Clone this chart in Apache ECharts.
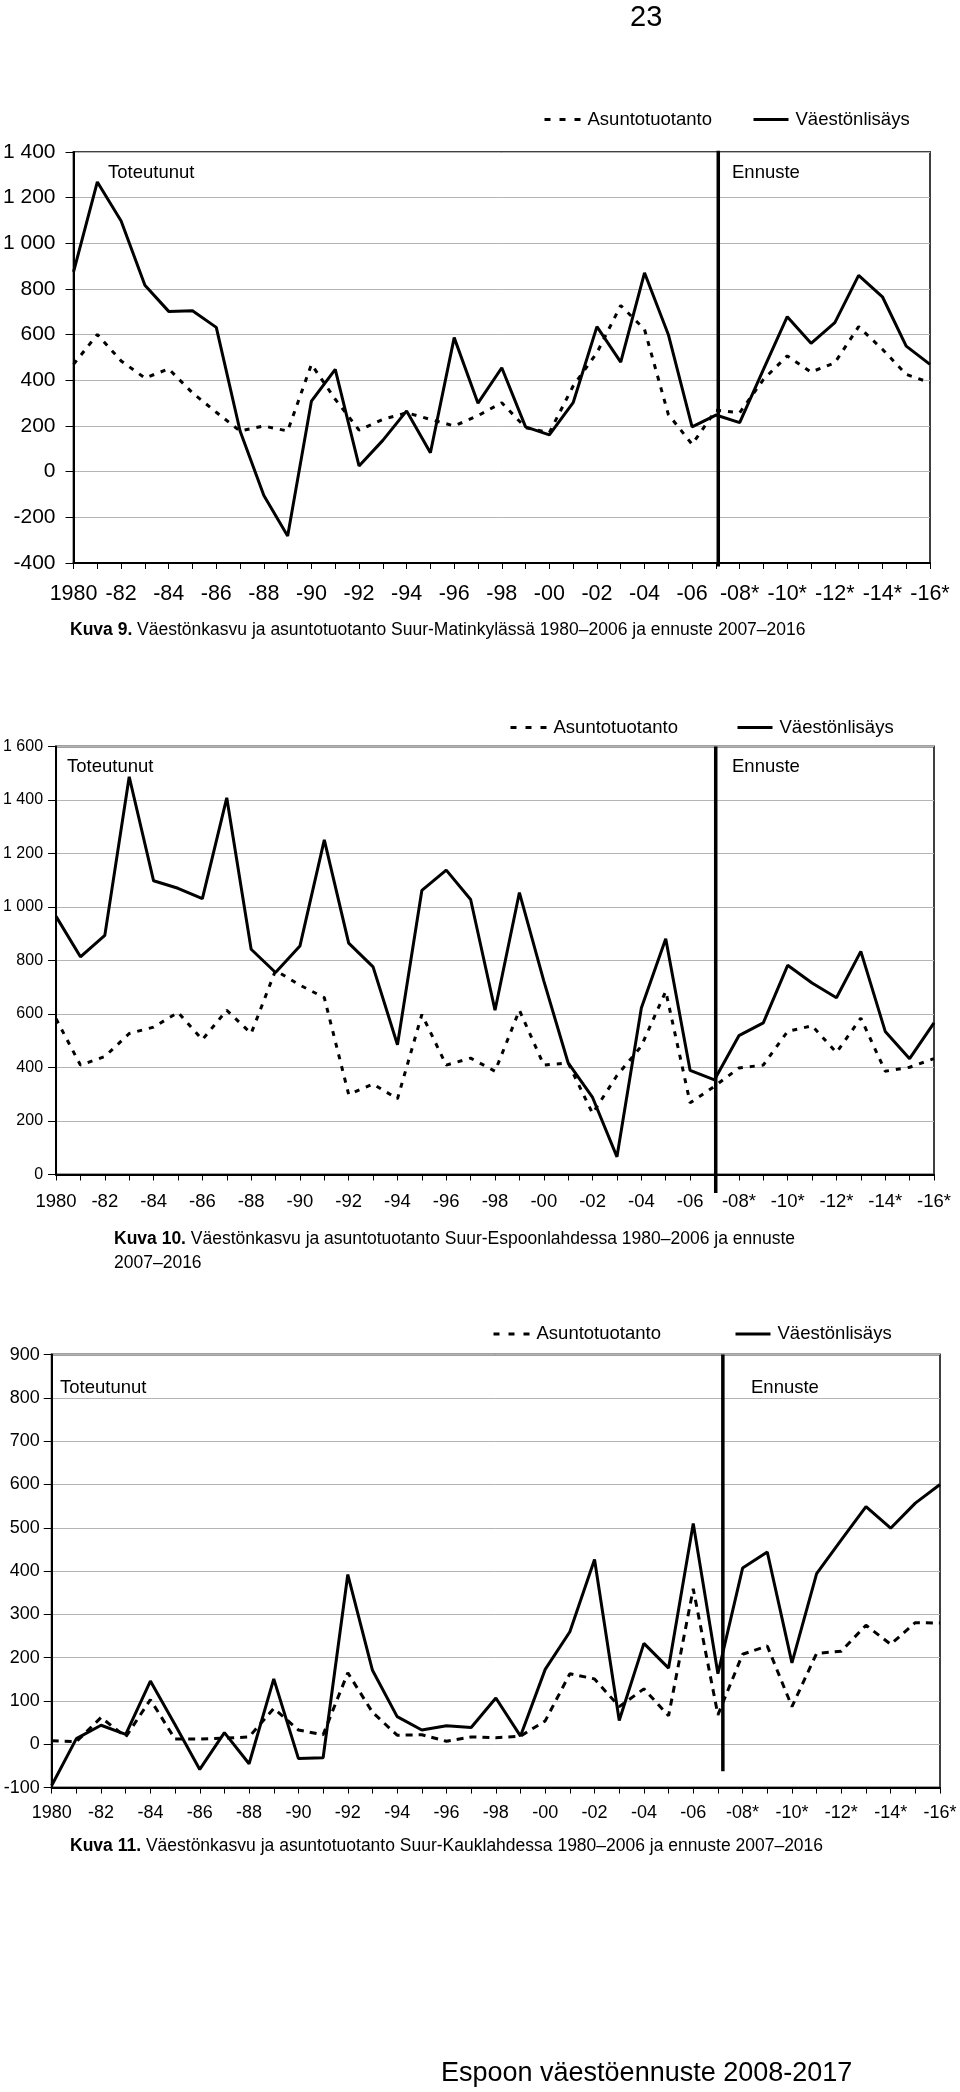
<!DOCTYPE html>
<html><head><meta charset="utf-8">
<script src="https://cdn.jsdelivr.net/npm/echarts@6/dist/echarts.min.js"></script>
<style>html,body{margin:0;padding:0;background:#fff}#c{width:960px;height:2092px}</style>
</head><body><div id="c"></div>
<script>
const years = [1980,1981,1982,1983,1984,1985,1986,1987,1988,1989,1990,1991,1992,1993,1994,1995,1996,1997,1998,1999,2000,2001,2002,2003,2004,2005,2006,2007,2008,2009,2010,2011,2012,2013,2014,2015,2016];
const xTickLabels = ['1980','-82','-84','-86','-88','-90','-92','-94','-96','-98','-00','-02','-04','-06','-08*','-10*','-12*','-14*','-16*'];
const forecastStart = 2007;
const seriesNames = ['Asuntotuotanto', 'Väestönlisäys'];

// Kuva 9 – Suur-Matinkylä
const c1Asunto = [470,601,485,410,450,345,260,178,200,178,470,317,182,229,258,229,200,245,302,193,171,375,521,728,623,251,120,269,258,404,507,436,477,635,536,426,390];
const c1Vaesto = [875,1269,1098,816,702,705,632,178,-104,-282,309,448,25,137,266,83,587,300,455,196,161,302,635,480,871,601,196,248,215,448,679,562,653,860,766,550,470];
// Kuva 10 – Suur-Espoonlahti
const c2Asunto = [582,409,441,527,551,606,504,614,527,763,708,661,299,338,283,598,409,435,386,614,409,417,228,370,480,685,268,330,398,409,535,556,456,585,386,401,433];
const c2Vaesto = [965,814,894,1487,1098,1070,1031,1408,842,755,854,1251,865,776,485,1062,1138,1028,614,1054,724,417,288,66,622,881,389,354,519,567,782,716,661,834,535,433,567];
// Kuva 11 – Suur-Kauklahti
const c3Asunto = [8,6,62,17,103,12,12,14,17,83,33,22,165,74,21,22,7,17,15,19,54,163,151,87,128,66,359,68,208,227,87,210,215,275,231,281,280];
const c3Vaesto = [-95,13,44,23,146,45,-58,27,-45,151,-33,-31,392,171,64,33,43,39,107,19,173,260,427,55,233,176,510,163,407,444,188,394,472,549,499,557,600];

const captions = [
  ['Kuva 9.', ' Väestönkasvu ja asuntotuotanto Suur-Matinkylässä 1980–2006 ja ennuste 2007–2016'],
  ['Kuva 10.', ' Väestönkasvu ja asuntotuotanto Suur-Espoonlahdessa 1980–2006 ja ennuste\n2007–2016'],
  ['Kuva 11.', ' Väestönkasvu ja asuntotuotanto Suur-Kauklahdessa 1980–2006 ja ennuste 2007–2016']
];
const pageNumber = '23';
const footer = 'Espoon väestöennuste 2008-2017';

const FONT = '"Liberation Sans", Arial, Helvetica, sans-serif';
const pairs = (vals) => years.map((y, i) => [y, vals[i]]);
const fmtY = (v) => String(v).replace(/\B(?=(\d{3})+(?!\d))/g, ' ');
const fmtX = (v) => (v % 2 === 0 ? xTickLabels[(v - 1980) / 2] : '');

const charts = [
  {asunto: c1Asunto, vaesto: c1Vaesto, min: -400, max: 1400, step: 200,
   grid: {left: 73, right: 30, top: 152, height: 411}, yFont: 21, xFont: 21.5, yMargin: 18, xMargin: 20,
   dash: [5, 7], vline: [1405, -415], vx: forecastStart + 0.1,
   legendY: 120, legendX: [543, 752], toteX: 108, ennX: 732, noteY: 173},
  {asunto: c2Asunto, vaesto: c2Vaesto, min: 0, max: 1600, step: 200,
   grid: {left: 56, right: 26, top: 746.5, height: 428}, yFont: 16, xFont: 18.5, yMargin: 13, xMargin: 18,
   dash: [5, 7], vline: [1600, -69], vx: forecastStart + 0.05,
   legendY: 728, legendX: [509, 736], toteX: 67, ennX: 732, noteY: 767.5},
  {asunto: c3Asunto, vaesto: c3Vaesto, min: -100, max: 900, step: 100,
   grid: {left: 51.7, right: 20, top: 1354.6, height: 433}, yFont: 18, xFont: 18, yMargin: 12, xMargin: 16,
   dash: [7, 6], vline: [900, -62], vx: forecastStart + 0.2,
   legendY: 1334.6, legendX: [492, 734], toteX: 60, ennX: 751, noteY: 1388.6}
];

const option = {
  animation: false,
  backgroundColor: '#fff',
  textStyle: {fontFamily: FONT, color: '#000'},
  grid: [], xAxis: [], yAxis: [], series: [], legend: [], graphic: []
};

charts.forEach((c, k) => {
  option.grid.push(Object.assign({show: true, borderColor: '#404040', borderWidth: 2, backgroundColor: 'transparent'}, c.grid));
  option.xAxis.push({
    type: 'value', gridIndex: k, min: 1980, max: 2016, interval: 1,
    axisLine: {show: true, onZero: false, lineStyle: {color: '#000', width: 2}},
    axisTick: {show: true, length: 6, lineStyle: {color: '#000', width: 1}},
    splitLine: {show: false},
    axisLabel: {formatter: fmtX, fontSize: c.xFont, color: '#000', fontFamily: FONT, margin: c.xMargin, showMinLabel: true, showMaxLabel: true}
  });
  option.yAxis.push({
    type: 'value', gridIndex: k, min: c.min, max: c.max, interval: c.step,
    axisLine: {show: true, onZero: false, lineStyle: {color: '#000', width: 2}},
    axisTick: {show: true, length: 8, lineStyle: {color: '#000', width: 1}},
    splitLine: {show: true, lineStyle: {color: '#b4b4b4', width: 1}},
    axisLabel: {formatter: fmtY, fontSize: c.yFont, color: '#000', fontFamily: FONT, margin: c.yMargin}
  });
  option.series.push({
    name: seriesNames[0], type: 'line', xAxisIndex: k, yAxisIndex: k, symbol: 'none',
    data: pairs(c.asunto), lineStyle: {color: '#000', width: 3, type: c.dash, cap: 'butt'}, itemStyle: {color: '#000'}, z: 3
  });
  option.series.push({
    name: seriesNames[1], type: 'line', xAxisIndex: k, yAxisIndex: k, symbol: 'none',
    data: pairs(c.vaesto), lineStyle: {color: '#000', width: 3, type: 'solid'}, itemStyle: {color: '#000'}, z: 4
  });
  option.series.push({
    name: 'ennusteraja', type: 'line', xAxisIndex: k, yAxisIndex: k, symbol: 'none', silent: true, clip: false,
    data: [[c.vx, c.vline[0]], [c.vx, c.vline[1]]], lineStyle: {color: '#000', width: 3.5}, z: 5
  });
  seriesNames.forEach((nm, j) => {
    option.legend.push({
      data: [nm], left: c.legendX[j], top: c.legendY - 10, itemWidth: j === 0 ? 36 : 35, itemHeight: 20, padding: 0,
      selectedMode: false,
      itemStyle: {color: 'rgba(0,0,0,0)', borderWidth: 0, opacity: 0},
      lineStyle: j === 0 ? {type: [6, 9], width: 3, color: '#000'} : {width: 3, color: '#000'},
      textStyle: {fontSize: 18.5, color: '#000', fontFamily: FONT, padding: [0, 0, 0, 2]}
    });
  });
  option.graphic.push({type: 'text', left: c.toteX, top: c.noteY - 10, style: {text: 'Toteutunut', fill: '#000', font: '18.5px ' + FONT}});
  option.graphic.push({type: 'text', left: c.ennX, top: c.noteY - 10, style: {text: 'Ennuste', fill: '#000', font: '18.5px ' + FONT}});
});

const capPos = [[70, 621], [114, 1230], [70, 1837]];
captions.forEach((cp, k) => {
  const lines = cp[1].split('\n');
  option.graphic.push({
    type: 'text', left: capPos[k][0], top: capPos[k][1],
    style: {
      text: '{b|' + cp[0] + '}{n|' + lines[0] + '}' + (lines.length > 1 ? '\n{n|' + lines[1] + '}' : ''),
      rich: {
        b: {fontFamily: FONT, fontSize: 17.5, fontWeight: 'bold', fill: '#000', lineHeight: 24},
        n: {fontFamily: FONT, fontSize: 17.5, fill: '#000', lineHeight: 24}
      }
    }
  });
});
option.graphic.push({type: 'text', left: 630, top: 3, style: {text: pageNumber, font: '29px ' + FONT, fill: '#000'}});
option.graphic.push({type: 'text', left: 441, top: 2060, style: {text: footer, font: '27px ' + FONT, fill: '#000'}});

const chart = echarts.init(document.getElementById('c'), null, {renderer: 'canvas'});
chart.setOption(option);
</script></body></html>
